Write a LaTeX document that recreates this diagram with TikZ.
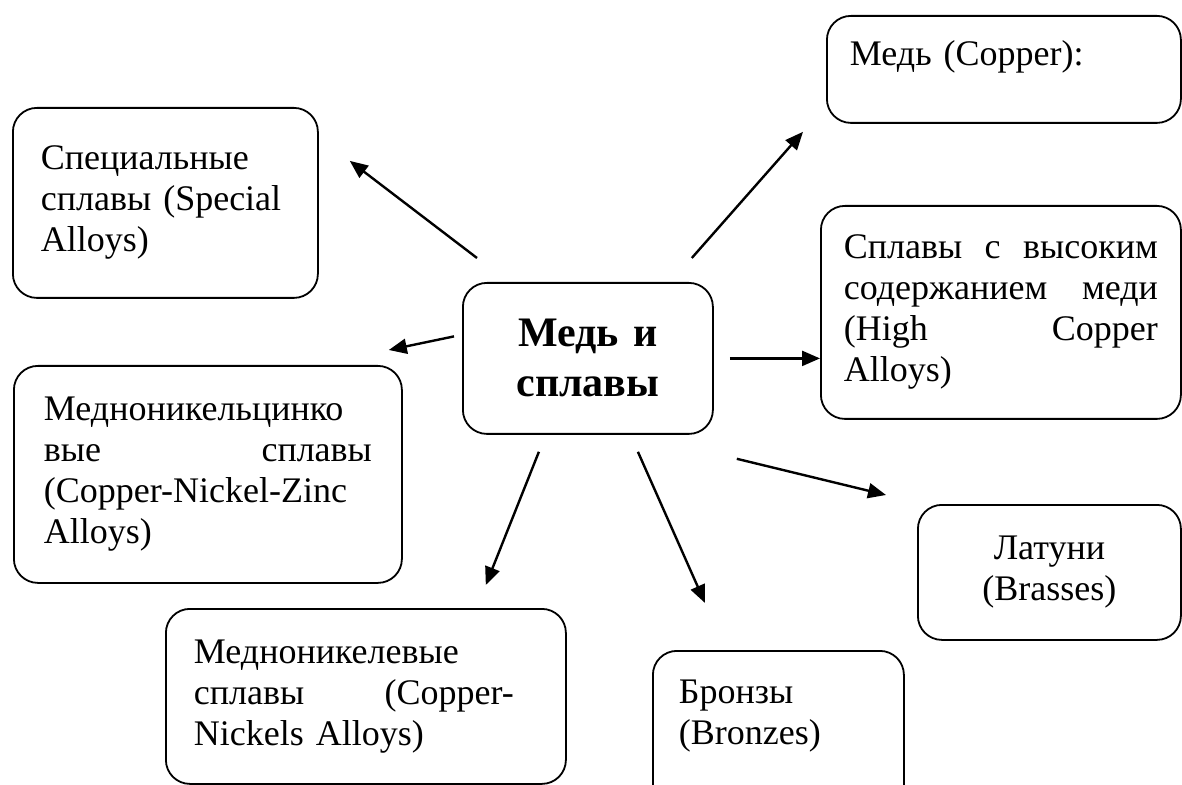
\documentclass[tikz,border=0pt]{standalone}
\usepackage{fontspec}
\setmainfont{Liberation Serif}
\usetikzlibrary{arrows.meta}

\begin{document}
\begin{tikzpicture}[
        x=0.5pt, y=-0.5pt,
        box/.style={draw, line width=0.9pt, rounded corners=12pt, anchor=north west, align=left, inner ysep=0pt, font=\fontsize{18}{20.5}\selectfont},
        arrow/.style={-{Triangle[length=9pt,width=7.5pt]}, line width=1.2pt}
    ]
        \useasboundingbox (0,0) rectangle (1182,785);
        \clip (0,0) rectangle (1182,785);
        \node[box, font=\fontsize{21}{25}\selectfont\bfseries, align=center, minimum width=125pt, minimum height=75.5pt, text width=115pt, inner xsep=5pt] (main) at (462,282) {Медь и\\ сплавы};
        \node[box, minimum width=177pt, minimum height=53.5pt, inner xsep=11.5pt, text width=154pt, text height=14pt, text depth=17.5pt] (copper) at (826,15) {Медь (Copper):};
        \node[box, minimum width=152.5pt, minimum height=95pt, inner xsep=14pt, text width=124.5pt] (special) at (12,107) {Специальные\\ сплавы (Special\\ Alloys)};
        \node[box, minimum width=180pt, minimum height=106.5pt, inner xsep=11.5pt, text width=157pt] (highcu) at (820,205) {Сплавы \hfill с \hfill высоким\\ содержанием \hfill меди\\ (High \hfill Copper\\ Alloys)};
        \node[box, minimum width=194pt, minimum height=108.5pt, inner xsep=15pt, text width=164pt] (cunizn) at (13,365) {Медноникельцинко\\ вые \hfill сплавы\\ (Copper-Nickel-Zinc\\ Alloys)};
        \node[box, minimum width=200pt, minimum height=87.5pt, inner xsep=14pt, text width=172pt] (cuni) at (165,608) {Медноникелевые\\ сплавы \hfill (Copper-\hspace{12pt}\strut\\ Nickels Alloys)};
        \node[box, minimum width=125.5pt, minimum height=82pt, inner xsep=13pt, text width=99.5pt] (bronze) at (652,650) {Бронзы\\ (Bronzes)\\ ~};
        \node[box, align=center, minimum width=131.5pt, minimum height=67.5pt, inner xsep=10pt, text width=111.5pt] (brass) at (917,504) {Латуни\\ (Brasses)};
        % arrows out of the centre
        \draw[arrow] ([shift={(-22,-24)}]main.north east) -- ([shift={(-23,8)}]copper.south west);
        \draw[arrow] ([shift={(15,-24)}]main.north west) -- ([shift={(31,-42)}]special.east);
        \draw[arrow] ([shift={(-8,-22)}]main.west) -- ([shift={(-14,-15)}]cunizn.north east);
        \draw[arrow] ([xshift=8]main.east) -- (main.east -| highcu.west);
        \draw[arrow] ([shift={(23,24)}]main.south east) -- ([shift={(-31,-9)}]brass.north west);
        \draw[arrow] ([shift={(50,17)}]main.south) -- ([shift={(53,-47)}]bronze.north west);
        \draw[arrow] ([shift={(-49,17)}]main.south) -- ([shift={(-81,-23)}]cuni.north east);
    \end{tikzpicture}
\end{document}
